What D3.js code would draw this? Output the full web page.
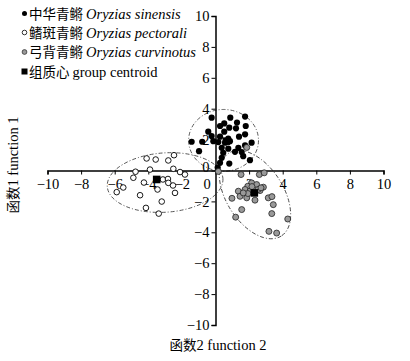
<!DOCTYPE html>
<html><head><meta charset="utf-8">
<script src="https://cdn.jsdelivr.net/npm/d3@7"></script>
<style>
body{margin:0;background:#fff;}
svg{display:block;}
text{font-family:"Liberation Serif","Times New Roman",serif;}
</style></head>
<body><div id="chart"></div>
<script>
// ---- data ----
const tickValues = [-10,-8,-6,-4,-2,0,2,4,6,8,10];
const sinensis = [
 [-0.23,3.42],[0.88,3.42],[1.76,3.49],[0.52,3.05],[1.28,3.10],[0.27,2.88],[0.82,2.77],[1.80,2.88],
 [1.22,2.73],[-0.43,2.51],[0.52,2.51],[1.76,2.34],[-0.23,2.23],[0.27,2.19],[0.76,2.06],[1.40,2.19],
 [-1.42,1.86],[-0.79,1.86],[-0.13,1.90],[0.17,1.84],[0.57,1.80],[0.86,1.90],[2.15,1.80],[1.76,1.62],
 [1.36,1.47],[0.76,1.41],[0.37,1.47],[-0.98,1.25],[0.46,1.15],[1.16,1.21],[1.56,1.19],[0.37,0.82],
 [1.65,0.93],[2.05,0.67],[0.27,0.50],[0.82,0.45],[0.13,0.19]
];
const pectorali = [
 [-4.10,0.78],[-3.56,0.71],[-2.81,0.65],[-2.47,0.99],[-2.51,0.11],[-3.90,0.06],[-4.76,-0.08],
 [-2.11,-0.10],[-1.82,-0.26],[-4.89,-0.47],[-4.26,-0.78],[-3.13,-0.58],[-2.83,-0.55],[-2.53,-0.97],
 [-2.81,-0.80],[-5.49,-1.10],[-5.88,-1.40],[-3.45,-1.23],[-2.41,-1.45],[-4.49,-1.60],[-3.20,-2.01],
 [-4.14,-2.42],[-3.38,-2.79]
];
const curvinotus = [
 [0.17,-0.06],[1.52,-0.26],[2.61,-0.26],[2.90,-0.15],[1.86,1.49],[2.15,-0.80],[1.92,-1.02],[2.45,-0.91],
 [2.85,-1.08],[2.65,-1.30],[1.36,-1.34],[1.76,-1.23],[2.05,-1.34],[1.46,-1.67],[1.86,-1.77],[2.35,-1.92],
 [0.98,-1.80],[3.14,-1.77],[3.36,-1.69],[3.44,-2.21],[1.56,-2.53],[3.35,-2.79],[1.20,-3.02],[4.30,-3.14],
 [3.18,-3.94],[3.64,-4.05],[2.17,-1.04],[1.93,-1.49],[2.53,-1.23],[1.65,-1.45],[2.71,-1.12]
];
const centroids = [[0.65,1.90],[-3.50,-0.58],[2.31,-1.45]];
// ellipses: cx, cy, rx, ry (data units), rotation (deg)
const ellipseCX = [0.48,-3.00,2.35];
const ellipseCY = [1.95,-0.78,-1.56];
const ellipseRX = [2.08,3.45,2.92];
const ellipseRY = [2.00,1.92,1.85];
const ellipseRot = [0,-4,57.6];
const legendCN = ["中华青鳉 ","鳍斑青鳉 ","弓背青鳉 ","组质心 "];
const legendLatin = ["Oryzias sinensis","Oryzias pectorali","Oryzias curvinotus","group centroid"];

// ---- chart ----
const W=410,H=361;
const svg=d3.select("#chart").append("svg").attr("width",W).attr("height",H);
const x=d3.scaleLinear().domain([-10,10]).range([47.5,383.5]);
const y=d3.scaleLinear().domain([-10,10]).range([325,16]);
const cjk='"Noto Sans CJK SC","Noto Sans CJK JP",sans-serif';

// ellipses
const eg=svg.append("g");
ellipseCX.forEach((cx,i)=>{
  eg.append("ellipse")
    .attr("cx",0).attr("cy",0)
    .attr("rx",x(ellipseRX[i])-x(0))
    .attr("ry",y(0)-y(ellipseRY[i]))
    .attr("transform",`translate(${x(cx)},${y(ellipseCY[i])}) rotate(${ellipseRot[i]})`)
    .attr("fill","none").attr("stroke","#333").attr("stroke-width",0.8)
    .attr("stroke-dasharray","4,2,1,2");
});

// axes
const fmt=d=>d<0?"\u2212"+Math.abs(d):String(d);
const xAxis=d3.axisBottom(x).tickValues(tickValues).tickSize(4).tickFormat(fmt);
const yAxis=d3.axisLeft(y).tickValues(tickValues).tickSize(4).tickFormat(fmt);
const gx=svg.append("g").attr("transform",`translate(0,${y(0)})`).call(xAxis);
const gy=svg.append("g").attr("transform",`translate(${x(0)},0)`).call(yAxis);
[gx,gy].forEach(g=>{
  g.select(".domain").attr("stroke","#000").attr("stroke-width",1.5);
  g.selectAll(".tick line").attr("stroke","#000").attr("stroke-width",1);
  g.selectAll("text").attr("font-family","'Liberation Serif',serif").attr("font-size",14.5).attr("fill","#000");
});
gx.selectAll(".tick text").attr("dy","0.9em").attr("y",5)
  .filter(d=>d===0).attr("dx",-9);
gy.selectAll(".tick text").attr("x",-6).filter(d=>d===0).attr("dy","0.05em");

// points
const pts=svg.append("g");
pts.selectAll(".s").data(sinensis).join("circle")
  .attr("cx",d=>x(d[0])).attr("cy",d=>y(d[1])).attr("r",3.1).attr("fill","#000");
pts.selectAll(".p").data(pectorali).join("circle")
  .attr("cx",d=>x(d[0])).attr("cy",d=>y(d[1])).attr("r",2.8)
  .attr("fill","#fff").attr("stroke","#000").attr("stroke-width",0.9);
pts.selectAll(".c").data(curvinotus).join("circle")
  .attr("cx",d=>x(d[0])).attr("cy",d=>y(d[1])).attr("r",3)
  .attr("fill","#999").attr("stroke","#222").attr("stroke-width",0.8);
pts.selectAll(".g").data(centroids).join("rect")
  .attr("x",d=>x(d[0])-3.8).attr("y",d=>y(d[1])-3.8).attr("width",7.6).attr("height",7.6).attr("fill","#000");

// legend
const lg=svg.append("g");
const ly=[13.5,32.5,52,71.5];
legendCN.forEach((t,i)=>{
  const cy=ly[i];
  if(i===0) lg.append("circle").attr("cx",24.5).attr("cy",cy).attr("r",2.5).attr("fill","#000");
  if(i===1) lg.append("circle").attr("cx",24.5).attr("cy",cy).attr("r",2.3).attr("fill","#fff").attr("stroke","#000").attr("stroke-width",0.8);
  if(i===2) lg.append("circle").attr("cx",24.5).attr("cy",cy).attr("r",2.4).attr("fill","#999").attr("stroke","#222").attr("stroke-width",0.7);
  if(i===3) lg.append("rect").attr("x",21.5).attr("y",cy-3).attr("width",6).attr("height",6).attr("fill","#000");
  const tx=lg.append("text").attr("x",29).attr("y",cy+5).attr("font-size",14.5).attr("fill","#000");
  tx.append("tspan").attr("font-family",cjk).attr("font-size",13.5).text(t);
  tx.append("tspan").attr("font-style",i<3?"italic":"normal").text(legendLatin[i]);
});

// axis titles
const xt=svg.append("text").attr("x",218).attr("y",350).attr("text-anchor","middle").attr("font-size",14.5).attr("fill","#000");
xt.append("tspan").attr("font-family",cjk).attr("font-size",13.5).text("函数");
xt.append("tspan").text("2 function 2");
const yt=svg.append("text").attr("transform","translate(18,165) rotate(-90)").attr("text-anchor","middle").attr("font-size",14.5).attr("fill","#000");
yt.append("tspan").attr("font-family",cjk).attr("font-size",13.5).text("函数");
yt.append("tspan").text("1 function 1");
</script></body></html>
